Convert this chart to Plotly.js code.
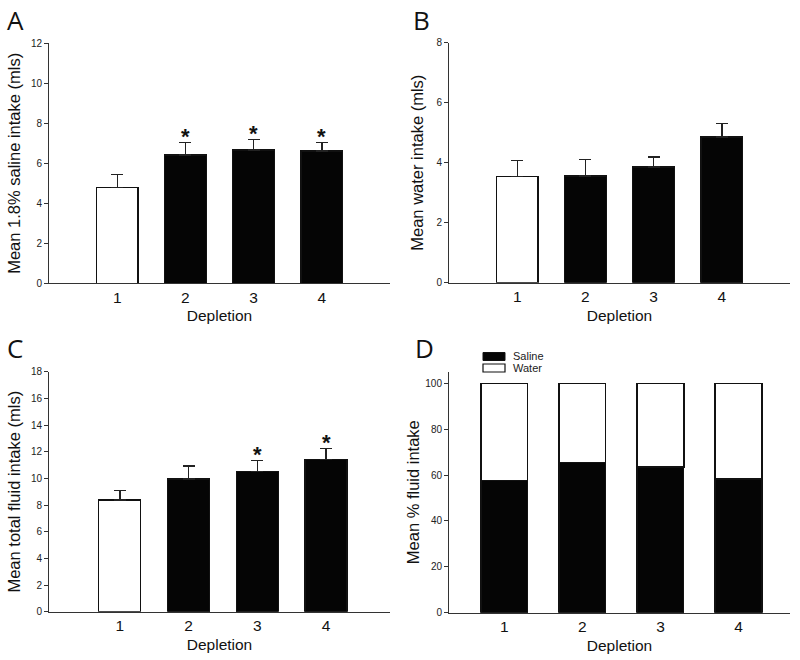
<!DOCTYPE html>
<html>
<head>
<meta charset="utf-8">
<script src="https://cdn.plot.ly/plotly-3.0.1.min.js"></script>
<style>html,body{margin:0;padding:0;background:#fff;}#chart{width:800px;height:660px;}</style>
</head>
<body>
<div id="chart"></div>
<script>
// ---- data ----
const depletion = [1, 2, 3, 4];
const tickLabels = ['1', '2', '3', '4'];
const salineMean = [4.80, 6.42, 6.67, 6.62];
const salineSem  = [0.65, 0.61, 0.53, 0.41];
const waterMean  = [3.53, 3.56, 3.86, 4.86];
const waterSem   = [0.55, 0.54, 0.33, 0.45];
const totalMean  = [8.38, 9.95, 10.50, 11.43];
const totalSem   = [0.72, 0.98, 0.83, 0.80];
const salinePct  = [57.8, 65.4, 63.5, 58.3];
const waterPct   = [42.2, 34.6, 36.5, 41.7];
const sigSaline  = [false, true, true, true];
const sigTotal   = [false, false, true, true];

// ---- styling ----
const AX = '#333';
const SANS = 'Liberation Sans, Arial, sans-serif';
const tickFont = {family: SANS, size: 10, color: '#222'};
const xTickFont = {family: SANS, size: 15.5, color: '#111'};
const xTitleFont = {family: SANS, size: 15.5, color: '#111'};
const yTitleFont = {family: SANS, size: 16.5, color: '#111'};
const fillFor = (arr) => arr.map((_, i) => i === 0 ? '#ffffff' : '#050505');
const zeros = (arr) => arr.map(() => 0);

function meanBar(mean, sem, xa, ya) {
  return {
    type: 'bar', x: depletion, y: mean, xaxis: xa, yaxis: ya, width: 0.61,
    marker: {color: fillFor(mean), line: {color: '#111', width: 1.3}},
    error_y: {type: 'data', symmetric: false, array: sem, arrayminus: zeros(sem),
              color: '#222', thickness: 1.4, width: 6},
    showlegend: false, hoverinfo: 'skip'
  };
}

const data = [
  meanBar(salineMean, salineSem, 'x', 'y'),
  meanBar(waterMean, waterSem, 'x2', 'y2'),
  meanBar(totalMean, totalSem, 'x3', 'y3'),
  {type: 'bar', name: 'Saline', x: depletion, y: salinePct, xaxis: 'x4', yaxis: 'y4', width: 0.6,
   marker: {color: '#050505', line: {color: '#111', width: 1.2}}, showlegend: false},
  {type: 'bar', name: 'Water', x: depletion, y: waterPct, xaxis: 'x4', yaxis: 'y4', width: 0.6,
   marker: {color: '#ffffff', line: {color: '#111', width: 1.3}}, showlegend: false}
];

function xAxis(domain, range, anchor) {
  return {domain: domain, range: range, anchor: anchor, tickvals: depletion, ticktext: tickLabels,
    ticks: '', showline: true, linecolor: AX, linewidth: 1, showgrid: false, zeroline: false,
    tickfont: xTickFont, fixedrange: true,
    title: {text: 'Depletion', font: xTitleFont, standoff: 5}};
}
function yAxis(domain, range, dtick, anchor, title, standoff) {
  return {domain: domain, range: range, dtick: dtick, tick0: 0, anchor: anchor,
    ticks: 'outside', ticklen: 4, tickcolor: AX, tickwidth: 1,
    showline: true, linecolor: AX, linewidth: 1, showgrid: false, zeroline: false,
    tickfont: tickFont, fixedrange: true,
    title: {text: title, font: yTitleFont, standoff: standoff}};
}

const annotations = [];
function stars(mean, sem, sig, xref, yref) {
  sig.forEach((s, i) => {
    if (!s) return;
    annotations.push({xref: xref, yref: yref, x: depletion[i], y: mean[i] + sem[i],
      text: '<b>*</b>', showarrow: false, yanchor: 'middle', yshift: 6,
      font: {family: SANS, size: 22, color: '#111'}});
  });
}
stars(salineMean, salineSem, sigSaline, 'x', 'y');
stars(totalMean, totalSem, sigTotal, 'x3', 'y3');

const letterFont = {family: 'Open Sans, sans-serif', size: 26, color: '#111'};
[['A', 5, 1], ['B', 411, 1], ['C', 5, 1 - 328 / 660], ['D', 413, 1 - 328 / 660]].forEach(l => {
  annotations.push({xref: 'paper', yref: 'paper', x: l[1] / 800, y: l[2], text: l[0],
    showarrow: false, xanchor: 'left', yanchor: 'top', font: letterFont});
});

// legend for panel D
const legFont = {family: SANS, size: 11, color: '#222'};
annotations.push({xref: 'paper', yref: 'paper', x: 511 / 800, y: 1 - 356 / 660, text: 'Saline',
  showarrow: false, xanchor: 'left', yanchor: 'middle', font: legFont});
annotations.push({xref: 'paper', yref: 'paper', x: 511 / 800, y: 1 - 368 / 660, text: 'Water',
  showarrow: false, xanchor: 'left', yanchor: 'middle', font: legFont});
const shapes = [
  {type: 'rect', xref: 'paper', yref: 'paper', x0: 483 / 800, x1: 505 / 800,
   y0: 1 - 360.5 / 660, y1: 1 - 352.5 / 660, fillcolor: '#050505', line: {color: '#111', width: 1}},
  {type: 'rect', xref: 'paper', yref: 'paper', x0: 483 / 800, x1: 505 / 800,
   y0: 1 - 372 / 660, y1: 1 - 364 / 660, fillcolor: '#ffffff', line: {color: '#111', width: 1.2}}
];

const layout = {
  width: 800, height: 660, autosize: false,
  margin: {l: 0, r: 0, t: 0, b: 0},
  paper_bgcolor: '#fff', plot_bgcolor: '#fff',
  barmode: 'stack', showlegend: false,
  xaxis:  xAxis([0.06125, 0.4875], [0, 5], 'y'),
  yaxis:  yAxis([0.5707, 0.9344], [0, 12], 2, 'x', 'Mean 1.8% saline intake (mls)', 6),
  xaxis2: xAxis([0.56125, 0.9875], [0, 5], 'y2'),
  yaxis2: yAxis([0.5717, 0.9353], [0, 8], 2, 'x2', 'Mean water intake (mls)', 8),
  xaxis3: xAxis([0.06125, 0.4875], [-0.03, 4.93], 'y3'),
  yaxis3: yAxis([0.0732, 0.4368], [0, 18], 2, 'x3', 'Mean total fluid intake (mls)', 6),
  xaxis4: xAxis([0.56125, 0.9875], [0.29, 4.66], 'y4'),
  yaxis4: yAxis([0.0717, 0.4368], [0, 105.1], 20, 'x4', 'Mean % fluid intake', 1),
  annotations: annotations,
  shapes: shapes
};

Plotly.newPlot('chart', data, layout, {displayModeBar: false, staticPlot: true});
</script>
</body>
</html>
